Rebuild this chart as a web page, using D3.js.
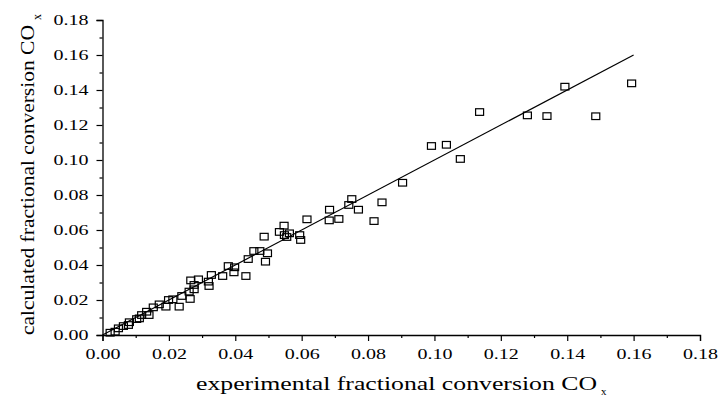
<!DOCTYPE html>
<html><head><meta charset="utf-8">
<script src="https://cdn.jsdelivr.net/npm/d3@7"></script>
<style>body{margin:0;background:#fff;} svg{display:block;}</style>
</head><body>
<svg id="c" width="719" height="398"></svg>
<script>
// experimental (x) vs calculated (y) fractional conversion
const expX = [0.0023,0.0038,0.0048,0.0063,0.0078,0.0081,0.0103,0.0111,0.0118,0.0133,0.0140,0.0153,0.0171,0.0191,0.0199,0.0212,0.0231,0.0239,0.0261,0.0264,0.0266,0.0276,0.0276,0.0289,0.0319,0.0321,0.0328,0.0362,0.0379,0.0396,0.0398,0.0432,0.0439,0.0456,0.0474,0.0487,0.0491,0.0497,0.0533,0.0547,0.0548,0.0555,0.0563,0.0594,0.0597,0.0616,0.0683,0.0684,0.0712,0.0742,0.0751,0.0771,0.0818,0.0842,0.0904,0.0991,0.1036,0.1078,0.1136,0.1280,0.1339,0.1393,0.1486,0.1594];
const calcY = [0.0013,0.0019,0.0038,0.0051,0.0057,0.0073,0.0091,0.0095,0.0114,0.0133,0.0114,0.0158,0.0175,0.0162,0.0200,0.0204,0.0162,0.0223,0.0248,0.0206,0.0312,0.0286,0.0261,0.0318,0.0305,0.0280,0.0343,0.0337,0.0394,0.0358,0.0387,0.0337,0.0434,0.0480,0.0480,0.0562,0.0419,0.0467,0.0589,0.0625,0.0571,0.0560,0.0581,0.0571,0.0543,0.0661,0.0655,0.0716,0.0663,0.0743,0.0777,0.0716,0.0651,0.0758,0.0870,0.1080,0.1087,0.1006,0.1274,0.1255,0.1251,0.1419,0.1250,0.1438];
const fitLine = [[0,0],[0.16,0.16]];
const xTicks = [0,0.02,0.04,0.06,0.08,0.10,0.12,0.14,0.16,0.18];
const yTicks = [0,0.02,0.04,0.06,0.08,0.10,0.12,0.14,0.16,0.18];
const minorTicks = [0.01,0.03,0.05,0.07,0.09,0.11,0.13,0.15,0.17];

const svg = d3.select("#c");
const x = d3.scaleLinear().domain([0,0.18]).range([102.5,700]);
const y = d3.scaleLinear().domain([0,0.18]).range([335,20]);
const font = "'Liberation Serif','Times New Roman',serif";

// axes
const xAxis = svg.append("g").attr("transform",`translate(0,${y(0)})`)
  .call(d3.axisBottom(x).tickValues(xTicks).tickSize(6).tickFormat(d3.format(".2f")).tickPadding(4));
svg.append("g").attr("transform",`translate(0,${y(0)})`)
  .call(d3.axisBottom(x).tickValues(minorTicks).tickSize(3).tickFormat("")).select(".domain").remove();
const yAxis = svg.append("g").attr("transform",`translate(${x(0)},0)`)
  .call(d3.axisLeft(y).tickValues(yTicks).tickSize(6).tickFormat(d3.format(".2f")).tickPadding(8));
svg.append("g").attr("transform",`translate(${x(0)},0)`)
  .call(d3.axisLeft(y).tickValues(minorTicks).tickSize(3).tickFormat("")).select(".domain").remove();

svg.selectAll(".domain").attr("stroke","#000").attr("stroke-width",1.3);
svg.selectAll(".tick line").attr("stroke","#000").attr("stroke-width",1.2);
svg.selectAll(".tick text").attr("font-family",font).attr("font-size",15).attr("fill","#000")
  .attr("textLength",35).attr("lengthAdjust","spacingAndGlyphs");
xAxis.selectAll(".tick text").attr("dy","0.9em");

// fitted line
svg.append("path").datum(fitLine)
  .attr("d",d3.line().x(d=>x(d[0])).y(d=>y(d[1])))
  .attr("stroke","#000").attr("stroke-width",1.2).attr("fill","none");

// points
const pts = expX.map((v,i)=>[v,calcY[i]]);
svg.append("g").selectAll("rect").data(pts).join("rect")
  .attr("x",d=>x(d[0])-4).attr("y",d=>y(d[1])-3.3)
  .attr("width",8).attr("height",6.6)
  .attr("fill","none").attr("stroke","#000").attr("stroke-width",1.2);

// x title
svg.append("text").attr("x",196).attr("y",390).attr("font-family",font).attr("font-size",19)
  .attr("textLength",401).attr("lengthAdjust","spacingAndGlyphs")
  .text("experimental fractional conversion CO");
svg.append("text").attr("x",601).attr("y",395).attr("font-family",font).attr("font-size",11).text("x");

// y title
svg.append("text").attr("transform","translate(34,335) rotate(-90)").attr("font-family",font).attr("font-size",19)
  .attr("textLength",310).attr("lengthAdjust","spacingAndGlyphs")
  .text("calculated fractional conversion CO");
svg.append("text").attr("transform","translate(41,20) rotate(-90)").attr("font-family",font).attr("font-size",12).text("x");
</script>
</body></html>
